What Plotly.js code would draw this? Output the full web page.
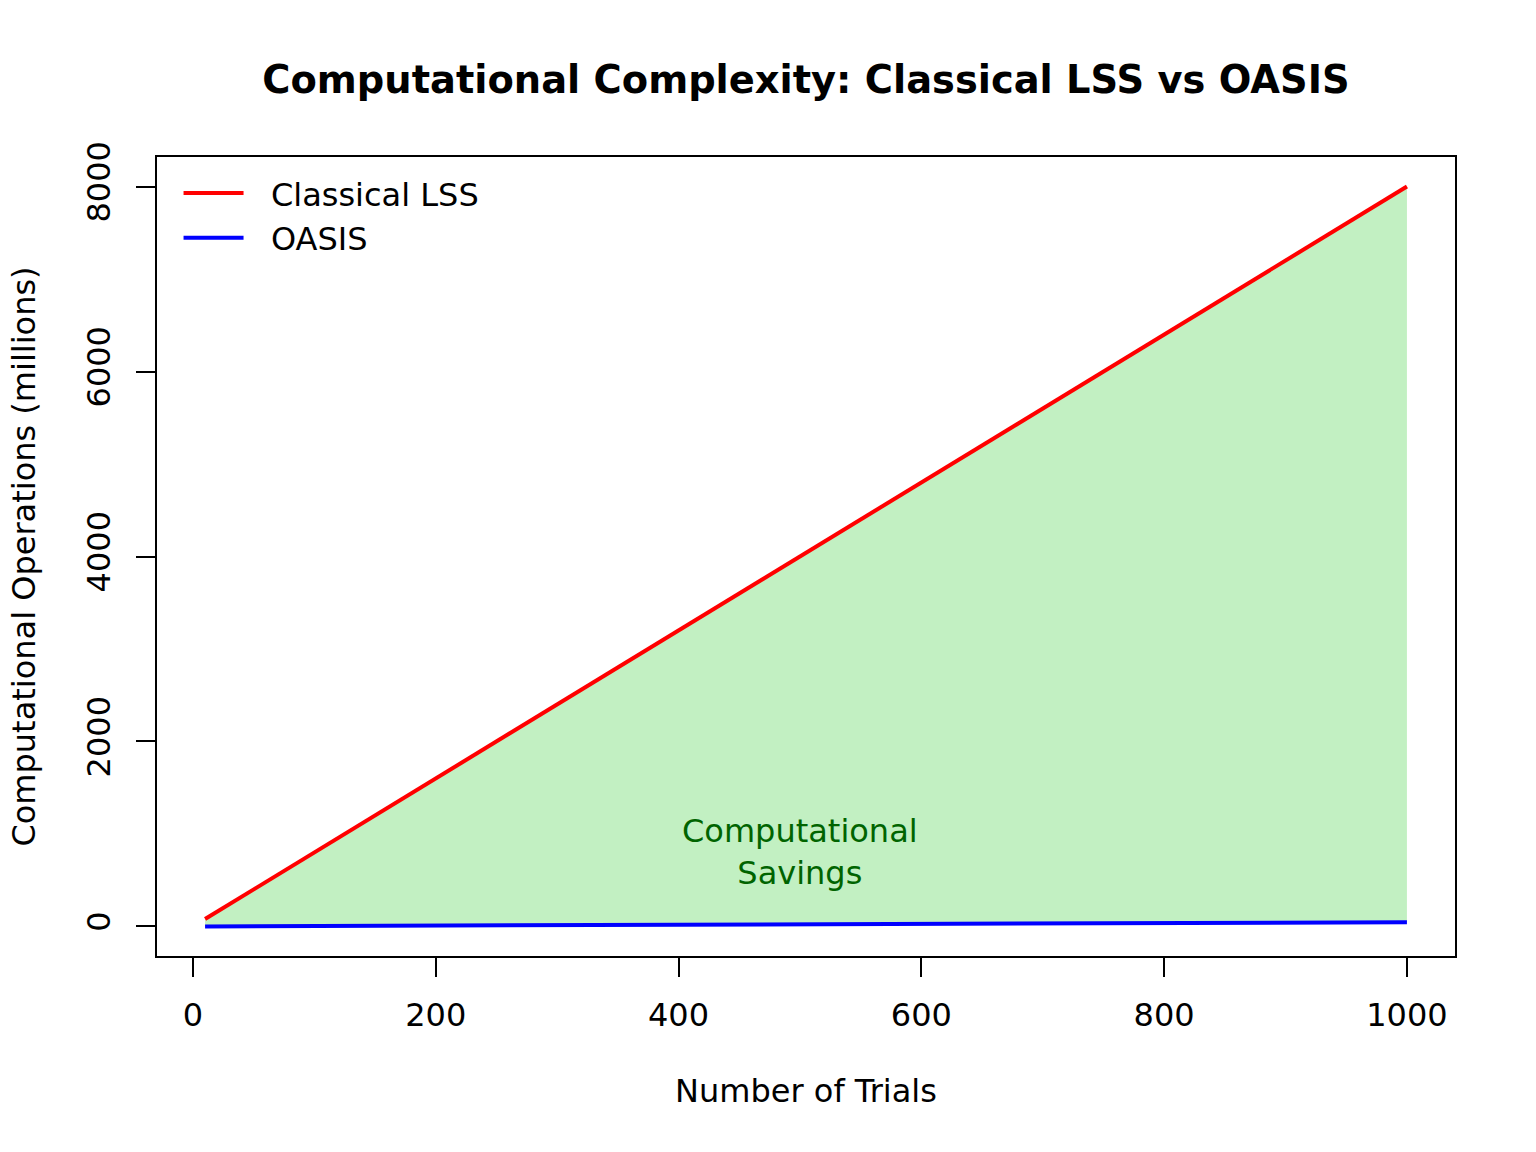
<!DOCTYPE html>
<html>
<head>
<meta charset="utf-8">
<script src="https://cdn.plot.ly/plotly-3.0.1.min.js"></script>
<style>html,body{margin:0;padding:0;background:#fff;}#chart{width:1536px;height:1152px;}</style>
</head>
<body>
<div id="chart"></div>
<script>
var trials = [10, 100, 200, 300, 400, 500, 600, 700, 800, 900, 1000];
var classicalOps = [80, 800, 1600, 2400, 3200, 4000, 4800, 5600, 6400, 7200, 8000];
var oasisOps = [0.45, 4.5, 9, 13.5, 18, 22.5, 27, 31.5, 36, 40.5, 45];
var seriesNames = ['Classical LSS', 'OASIS'];
var xTicks = [0, 200, 400, 600, 800, 1000];
var yTicks = [0, 2000, 4000, 6000, 8000];

var FONT = 'DejaVu Sans, sans-serif';
var FS = 32;
var GAP = '\u2002\u2009';

var polyX = trials.concat(trials.slice().reverse());
var polyY = classicalOps.concat(oasisOps.slice().reverse());

var traces = [
  {x: polyX, y: polyY, type: 'scatter', mode: 'lines', fill: 'toself',
   fillcolor: '#c2f0c2', line: {width: 0, color: 'rgba(0,0,0,0)'}, showlegend: false, hoverinfo: 'skip'},
  {x: trials, y: classicalOps, type: 'scatter', mode: 'lines', name: GAP + seriesNames[0],
   line: {color: '#ff0000', width: 4}},
  {x: trials, y: oasisOps, type: 'scatter', mode: 'lines', name: GAP + seriesNames[1],
   line: {color: '#0000ff', width: 4}}
];

var layout = {
  width: 1536, height: 1152,
  paper_bgcolor: '#ffffff', plot_bgcolor: '#ffffff',
  margin: {l: 157, r: 81, t: 157, b: 196, pad: 0},
  font: {family: FONT, size: FS, color: '#000000'},
  title: {text: '<b>Computational Complexity: Classical LSS vs OASIS</b>',
          font: {family: FONT, size: 38.4, color: '#000000'},
          x: 0.5, xref: 'paper', xanchor: 'center',
          y: 1 - 80/1152, yref: 'container', yanchor: 'middle'},
  xaxis: {range: [-29.6, 1039.6], tickvals: xTicks, ticktext: xTicks.map(String),
          ticks: 'outside', ticklen: 19, tickwidth: 2, tickcolor: '#000',
          showline: true, mirror: true, linecolor: '#000', linewidth: 2,
          showgrid: false, zeroline: false, ticklabelstandoff: 11,
          tickfont: {family: FONT, size: FS},
          title: {text: 'Number of Trials', font: {family: FONT, size: FS}, standoff: 46}},
  yaxis: {range: [-319.6, 8319.6], tickvals: yTicks, ticktext: yTicks.map(String),
          ticks: 'outside', ticklen: 19, tickwidth: 2, tickcolor: '#000',
          showline: true, mirror: true, linecolor: '#000', linewidth: 2,
          showgrid: false, zeroline: false, tickangle: -90, ticklabelstandoff: 13,
          tickfont: {family: FONT, size: FS},
          title: {text: 'Computational Operations (millions)', font: {family: FONT, size: FS}, standoff: 35}},
  legend: {x: 0.0166, y: 0.989, xanchor: 'left', yanchor: 'top', bgcolor: 'rgba(0,0,0,0)',
           borderwidth: 0, font: {family: FONT, size: FS}, itemwidth: 60, tracegroupgap: 0},
  annotations: [
    {x: 500, y: 801, xref: 'x', yref: 'y', text: 'Computational<br>Savings', showarrow: false,
     font: {family: FONT, size: FS, color: '#006400'}, xanchor: 'center', yanchor: 'middle', align: 'center'}
  ],
  showlegend: true
};

Plotly.newPlot('chart', traces, layout, {displayModeBar: false, staticPlot: true});
</script>
</body>
</html>
